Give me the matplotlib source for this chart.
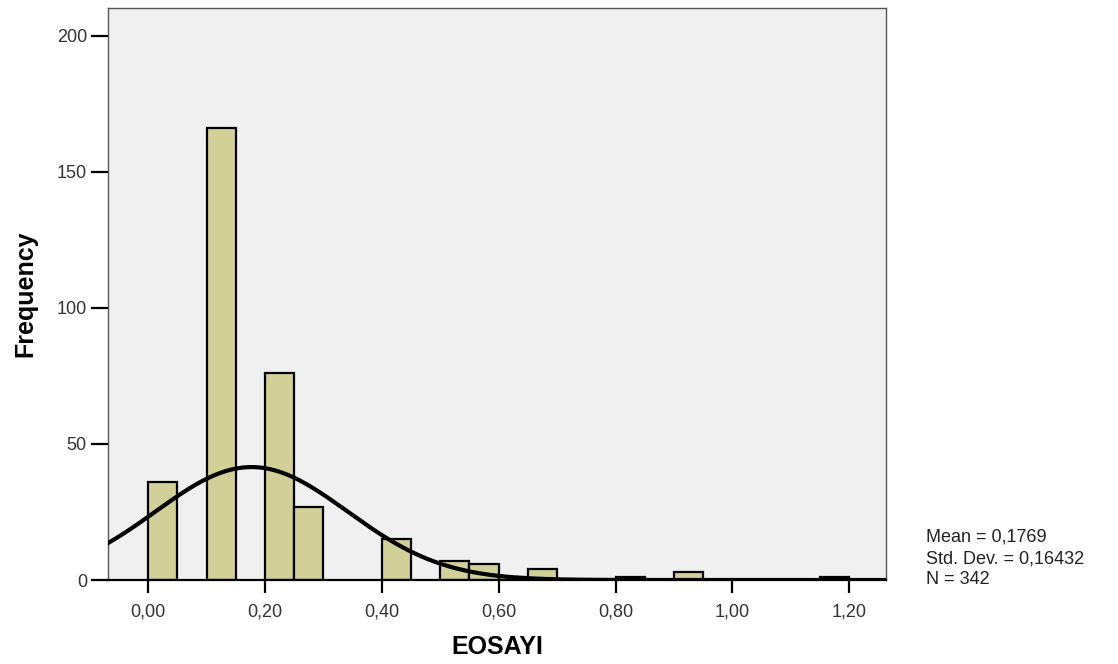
import numpy as np
import matplotlib.pyplot as plt

# Histogram counts (bin width 0,05)
bin_left = [0.00, 0.10, 0.20, 0.25, 0.40, 0.50, 0.55, 0.60, 0.65, 0.80, 0.90, 1.15]
counts = [36, 166, 76, 27, 15, 7, 6, 1, 4, 1, 3, 1]
bin_width = 0.05

# Summary statistics shown in the legend
mean = 0.1769
std = 0.16432
n = 342

xticks = [0.0, 0.2, 0.4, 0.6, 0.8, 1.0, 1.2]
xticklabels = ['0,00', '0,20', '0,40', '0,60', '0,80', '1,00', '1,20']
yticks = [0, 50, 100, 150, 200]

plt.rcParams['font.family'] = ['Liberation Sans', 'DejaVu Sans']

fig = plt.figure(figsize=(11.18, 6.64), dpi=100)
ax = fig.add_axes([0.097, 0.1265, 0.6955, 0.8615])
ax.set_facecolor('#f0f0f0')

ax.bar(bin_left, counts, width=bin_width, align='edge',
       color='#d3cf99', edgecolor='black', linewidth=1.6, zorder=2)

# Normal curve scaled to the histogram
xmin, xmax = -0.068, 1.263
xs = np.linspace(xmin, xmax, 400)
ys = n * bin_width * np.exp(-0.5 * ((xs - mean) / std) ** 2) / (std * np.sqrt(2 * np.pi))
ax.plot(xs, ys, color='black', linewidth=3.0, zorder=3)

ax.set_xlim(xmin, xmax)
ax.set_ylim(0, 210.3)

ax.set_xticks(xticks)
ax.set_xticklabels(xticklabels)
ax.set_yticks(yticks)
ax.tick_params(axis='x', length=9, width=1.6, pad=8, labelsize=13, labelcolor='#333333')
ax.tick_params(axis='y', length=12.5, width=1.6, pad=3, labelsize=13, labelcolor='#333333')

for side in ['top', 'right', 'left']:
    ax.spines[side].set_color('#555555')
    ax.spines[side].set_linewidth(1.0)
ax.spines['bottom'].set_color('black')
ax.spines['bottom'].set_linewidth(1.6)

ax.set_xlabel('EOSAYI', fontsize=18, fontweight='bold', labelpad=10)
ax.set_ylabel('Frequency', fontsize=18, fontweight='bold', labelpad=14)

fig.text(926 / 1118, 1 - 537 / 664, 'Mean = 0,1769', fontsize=13, color='#222222', va='center')
fig.text(926 / 1118, 1 - 559 / 664, 'Std. Dev. = 0,16432', fontsize=13, color='#222222', va='center')
fig.text(926 / 1118, 1 - 580 / 664, 'N = 342', fontsize=13, color='#222222', va='center')

fig.savefig('out.png', dpi=100, facecolor='white')
